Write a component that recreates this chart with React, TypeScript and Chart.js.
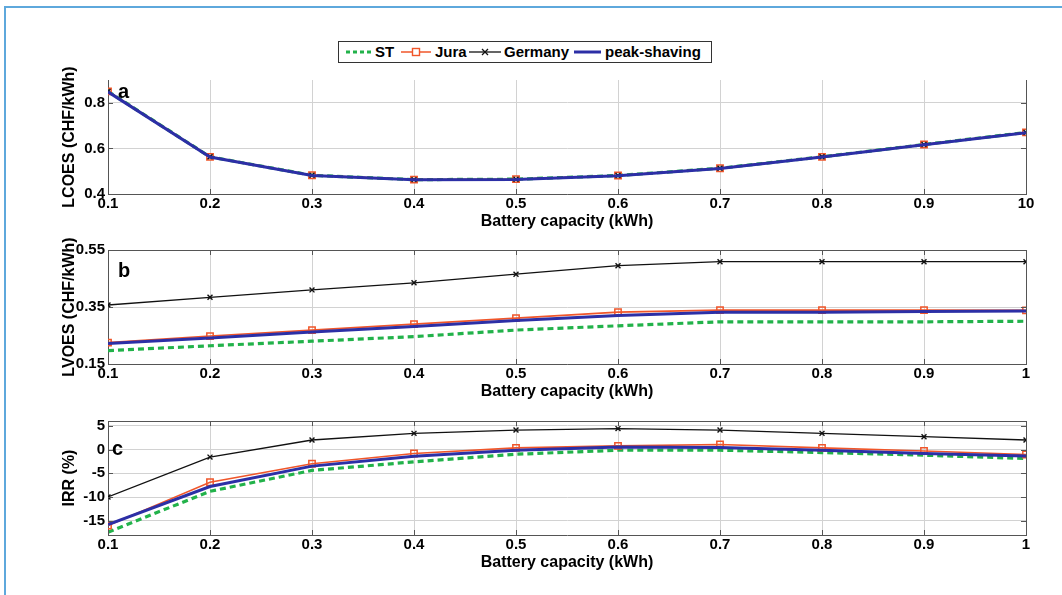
import React, { useEffect, useRef } from 'react';
import { Chart, registerables } from 'chart.js';

Chart.register(...registerables);

// ---------- data ----------
const capacity = [0.1, 0.2, 0.3, 0.4, 0.5, 0.6, 0.7, 0.8, 0.9, 1.0];
const xTickLabelsA = ['0.1', '0.2', '0.3', '0.4', '0.5', '0.6', '0.7', '0.8', '0.9', '10'];
const xTickLabels = ['0.1', '0.2', '0.3', '0.4', '0.5', '0.6', '0.7', '0.8', '0.9', '1'];

const seriesNames = ['ST', 'Jura', 'Germany', 'peak-shaving'];

const lcoesST = [0.85, 0.563, 0.482, 0.463, 0.465, 0.481, 0.513, 0.563, 0.617, 0.67];
const lcoesJura = [0.85, 0.563, 0.482, 0.463, 0.465, 0.481, 0.513, 0.563, 0.617, 0.67];
const lcoesGermany = [0.85, 0.563, 0.482, 0.463, 0.465, 0.481, 0.513, 0.563, 0.617, 0.67];
const lcoesPeak = [0.848, 0.562, 0.481, 0.462, 0.464, 0.48, 0.512, 0.562, 0.616, 0.669];

const lvoesST = [0.197, 0.214, 0.23, 0.246, 0.269, 0.284, 0.298, 0.298, 0.298, 0.3];
const lvoesJura = [0.225, 0.248, 0.269, 0.29, 0.311, 0.332, 0.339, 0.339, 0.339, 0.338];
const lvoesGermany = [0.357, 0.384, 0.41, 0.435, 0.465, 0.495, 0.509, 0.509, 0.509, 0.509];
const lvoesPeak = [0.222, 0.241, 0.262, 0.282, 0.303, 0.32, 0.332, 0.332, 0.334, 0.336];

const irrST = [-17.4, -8.8, -4.4, -2.6, -1.0, -0.15, -0.15, -0.64, -1.2, -1.9];
const irrJura = [-16.0, -6.9, -3.0, -0.85, 0.34, 0.76, 1.06, 0.34, -0.3, -1.06];
const irrGermany = [-10.0, -1.6, 2.0, 3.4, 4.1, 4.4, 4.1, 3.4, 2.7, 2.0];
const irrPeak = [-15.8, -7.8, -3.5, -1.4, -0.15, 0.5, 0.4, -0.15, -0.85, -1.35];

const lcoesTicks = [0.4, 0.6, 0.8];
const lvoesTicks = [0.15, 0.35, 0.55];
const irrTicks = [-15, -10, -5, 0, 5];

// ---------- styles ----------
const FONT = '"Liberation Sans", Arial, Helvetica, sans-serif';
const GREEN = '#22b24a';
const RED = '#f0562a';
const BLACK = '#111111';
const BLUE = '#2c2fa6';
const AXIS = '#555555';
const GRID = '#d2d2d2';

const panelDecor = {
  id: 'panelDecor',
  afterDraw(chart: any, _args: any, opts: any) {
    const { ctx, chartArea: a, scales } = chart;
    const xs = scales.x;
    const ys = scales.y;
    ctx.save();
    ctx.strokeStyle = AXIS;
    ctx.lineWidth = 1;
    ctx.beginPath();
    ctx.moveTo(Math.round(a.right) + 0.5, a.top);
    ctx.lineTo(Math.round(a.right) + 0.5, a.bottom);
    if (opts.topBorder) {
      ctx.moveTo(a.left, Math.round(a.top) + 0.5);
      ctx.lineTo(a.right, Math.round(a.top) + 0.5);
    }
    xs.ticks.forEach((t: any) => {
      const px = Math.round(xs.getPixelForValue(t.value)) + 0.5;
      ctx.moveTo(px, a.bottom);
      ctx.lineTo(px, a.bottom - 5);
      if (opts.topBorder) {
        ctx.moveTo(px, a.top);
        ctx.lineTo(px, a.top + 5);
      }
    });
    ys.ticks.forEach((t: any) => {
      const py = Math.round(ys.getPixelForValue(t.value)) + 0.5;
      ctx.moveTo(a.left, py);
      ctx.lineTo(a.left + 5, py);
      ctx.moveTo(a.right, py);
      ctx.lineTo(a.right - 5, py);
    });
    ctx.stroke();
    ctx.fillStyle = '#000';
    ctx.font = `bold 20px ${FONT}`;
    ctx.textBaseline = 'alphabetic';
    ctx.textAlign = 'left';
    ctx.fillText(opts.letter, a.left + opts.dx, a.top + opts.dy);
    ctx.restore();
  },
};

function makeDatasets(st: number[], jura: number[], ger: number[], peak: number[]) {
  const pts = (arr: number[]) => arr.map((v, i) => ({ x: capacity[i], y: v }));
  return [
    {
      label: seriesNames[0],
      data: pts(st),
      borderColor: GREEN,
      borderWidth: 3.2,
      borderDash: [6, 4],
      pointRadius: 0,
      order: 4,
    },
    {
      label: seriesNames[1],
      data: pts(jura),
      borderColor: RED,
      borderWidth: 1.6,
      pointStyle: 'rect',
      pointRadius: 4.5,
      pointBorderWidth: 1.5,
      pointBorderColor: RED,
      pointBackgroundColor: 'rgba(0,0,0,0)',
      order: 3,
    },
    {
      label: seriesNames[2],
      data: pts(ger),
      borderColor: BLACK,
      borderWidth: 1.3,
      pointStyle: 'crossRot',
      pointRadius: 3.5,
      pointBorderWidth: 1.4,
      pointBorderColor: BLACK,
      order: 2,
    },
    {
      label: seriesNames[3],
      data: pts(peak),
      borderColor: BLUE,
      borderWidth: 3,
      pointRadius: 0,
      order: 1,
    },
  ];
}

function makeConfig(p: any) {
  return {
    type: 'line',
    data: { datasets: makeDatasets(p.st, p.jura, p.ger, p.peak) },
    plugins: [panelDecor],
    options: {
      animation: false,
      responsive: false,
      maintainAspectRatio: false,
      layout: { padding: { top: p.padTop, right: 36, left: 0, bottom: 0 } },
      elements: { line: { tension: 0 } },
      plugins: {
        legend: { display: false },
        tooltip: { enabled: false },
        panelDecor: { letter: p.letter, dx: p.letterDx, dy: p.letterDy, topBorder: p.topBorder },
      },
      scales: {
        x: {
          type: 'linear',
          min: 0.1,
          max: 1.0,
          afterBuildTicks: (s: any) => {
            s.ticks = capacity.map((v) => ({ value: v }));
          },
          afterFit: (s: any) => {
            s.height = 46;
          },
          ticks: {
            autoSkip: false,
            maxRotation: 0,
            padding: 1,
            color: '#000',
            font: { family: FONT, size: 15, weight: 'bold' },
            callback: (_v: any, i: number) => p.xLabels[i],
          },
          grid: { color: GRID, lineWidth: 1, drawTicks: false },
          border: { display: true, color: AXIS, width: 1 },
          title: {
            display: true,
            text: 'Battery capacity (kWh)',
            color: '#000',
            font: { family: FONT, size: 16, weight: 'bold' },
            padding: { top: 0, bottom: 9 },
          },
        },
        y: {
          type: 'linear',
          min: p.yMin,
          max: p.yMax,
          afterBuildTicks: (s: any) => {
            s.ticks = p.yTicks.map((v: number) => ({ value: v }));
          },
          afterFit: (s: any) => {
            s.width = 108;
          },
          ticks: {
            padding: 3,
            color: '#000',
            font: { family: FONT, size: 15, weight: 'bold' },
            callback: (v: any) => String(v),
          },
          grid: { color: GRID, lineWidth: 1, drawTicks: false },
          border: { display: true, color: AXIS, width: 1 },
          title: {
            display: true,
            text: p.yTitle,
            color: '#000',
            font: { family: FONT, size: 16, weight: 'bold' },
            padding: { top: 60, bottom: 0 },
          },
        },
      },
    },
  };
}

const panels = [
  {
    top: 50, height: 190, padTop: 30, yMin: 0.4, yMax: 0.9, yTicks: lcoesTicks,
    yTitle: 'LCOES (CHF/kWh)', xLabels: xTickLabelsA,
    st: lcoesST, jura: lcoesJura, ger: lcoesGermany, peak: lcoesPeak,
    letter: 'a', letterDx: 10, letterDy: 18, topBorder: false,
  },
  {
    top: 230, height: 180, padTop: 20, yMin: 0.15, yMax: 0.55, yTicks: lvoesTicks,
    yTitle: 'LVOES (CHF/kWh)', xLabels: xTickLabels,
    st: lvoesST, jura: lvoesJura, ger: lvoesGermany, peak: lvoesPeak,
    letter: 'b', letterDx: 10, letterDy: 27, topBorder: true,
  },
  {
    top: 400, height: 181, padTop: 21, yMin: -18, yMax: 6, yTicks: irrTicks,
    yTitle: 'IRR (%)', xLabels: xTickLabels,
    st: irrST, jura: irrJura, ger: irrGermany, peak: irrPeak,
    letter: 'c', letterDx: 4, letterDy: 34, topBorder: true,
  },
];

function LegendBox() {
  const text = (left: number, label: string) => (
    <span
      style={{
        position: 'absolute',
        left,
        top: 0,
        lineHeight: '20px',
        fontFamily: FONT,
        fontWeight: 'bold',
        fontSize: 15,
        color: '#000',
        whiteSpace: 'nowrap',
      }}
    >
      {label}
    </span>
  );
  return (
    <div
      style={{
        position: 'absolute',
        left: 338,
        top: 41,
        width: 374,
        height: 22,
        border: '1px solid #333',
        background: '#fff',
        boxSizing: 'border-box',
        zIndex: 5,
      }}
    >
      <svg width={374} height={20} style={{ position: 'absolute', left: 0, top: 0 }}>
        <line x1={7} x2={33} y1={10} y2={10} stroke={GREEN} strokeWidth={3} strokeDasharray="4 3" />
        <line x1={62} x2={92} y1={10} y2={10} stroke={RED} strokeWidth={1.5} />
        <rect x={73.5} y={6.5} width={7} height={7} fill="#fff" stroke={RED} strokeWidth={1.4} />
        <line x1={130} x2={162} y1={10} y2={10} stroke={BLACK} strokeWidth={1.3} />
        <line x1={143} x2={149} y1={7} y2={13} stroke={BLACK} strokeWidth={1.3} />
        <line x1={143} x2={149} y1={13} y2={7} stroke={BLACK} strokeWidth={1.3} />
        <line x1={235} x2={262} y1={10} y2={10} stroke={BLUE} strokeWidth={3} />
      </svg>
      {text(36, seriesNames[0])}
      {text(96, seriesNames[1])}
      {text(165, seriesNames[2])}
      {text(266, seriesNames[3])}
    </div>
  );
}

export default function App() {
  const refs = [useRef<HTMLCanvasElement>(null), useRef<HTMLCanvasElement>(null), useRef<HTMLCanvasElement>(null)];

  useEffect(() => {
    const charts: Chart[] = [];
    panels.forEach((p, i) => {
      const c = refs[i].current;
      if (c) charts.push(new Chart(c, makeConfig(p) as any));
    });
    return () => charts.forEach((ch) => ch.destroy());
  }, []);

  return (
    <div
      style={{
        position: 'absolute',
        left: 0,
        top: 0,
        width: 1062,
        height: 595,
        background: '#fff',
        overflow: 'hidden',
      }}
    >
      <div
        style={{
          position: 'absolute',
          left: 4,
          top: 6,
          width: 1070,
          height: 600,
          borderTop: '2px solid #5ea8dc',
          borderLeft: '2px solid #5ea8dc',
        }}
      />
      {panels.map((p, i) => (
        <canvas
          key={i}
          ref={refs[i]}
          width={1062}
          height={p.height}
          style={{ position: 'absolute', left: 0, top: p.top, width: 1062, height: p.height, display: 'block' }}
        />
      ))}
      <LegendBox />
    </div>
  );
}
